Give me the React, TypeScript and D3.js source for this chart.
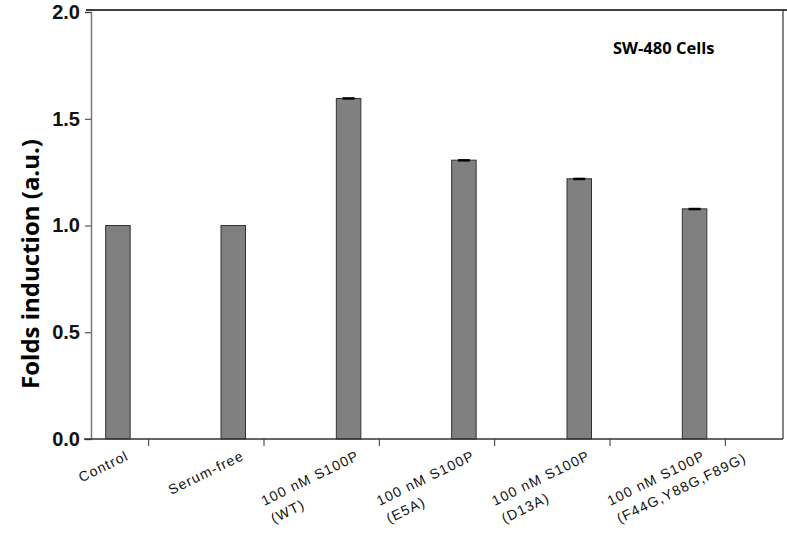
import React, { useEffect, useRef } from 'react';
import * as d3 from 'd3';

// categories (line 1 / line 2 of the tick label)
const labelLine1 = ['Control', 'Serum-free', '100 nM S100P', '100 nM S100P', '100 nM S100P', '100 nM S100P'];
const labelLine2 = ['', '', '(WT)', '(E5A)', '(D13A)', '(F44G,Y88G,F89G)'];
const values = [1.0, 1.0, 1.595, 1.306, 1.219, 1.078];
const errors = [0, 0, 0.006, 0.005, 0.005, 0.005];
const yTicks = [0, 0.5, 1.0, 1.5, 2.0];

const W = 787;
const H = 536;

const App = () => {
  const ref = useRef<SVGSVGElement>(null);

  useEffect(() => {
    document.body.style.margin = '0';
    const svg = d3.select(ref.current);
    svg.selectAll('*').remove();

    const cats = labelLine1.map((d, i) => `${i}`);
    const x = d3.scaleBand().domain(cats).range([91, 783]).padding(0);
    const y = d3.scaleLinear().domain([0, 2]).range([439, 12]);
    const y0 = y(0);
    const yTop = y(2);

    const barW = 24.5;
    const barOff = -43; // bars sit left of the tick

    // frame: top + right
    svg.append('line')
      .attr('x1', 86).attr('x2', 787).attr('y1', yTop - 2).attr('y2', yTop - 2)
      .attr('stroke', '#000').attr('stroke-width', 1.5);
    svg.append('line')
      .attr('x1', 783).attr('x2', 783).attr('y1', yTop - 2).attr('y2', y0)
      .attr('stroke', '#333').attr('stroke-width', 1.2);

    // bars
    const cx = (i: number) => (x(`${i}`) as number) + x.bandwidth() / 2;
    svg.selectAll('.bar')
      .data(values)
      .enter()
      .append('rect')
      .attr('class', 'bar')
      .attr('x', (d, i) => cx(i) + barOff)
      .attr('y', d => y(d))
      .attr('width', barW)
      .attr('height', d => y0 - y(d))
      .attr('fill', '#808080')
      .attr('stroke', '#333')
      .attr('stroke-width', 1);

    // error caps
    values.forEach((v, i) => {
      if (!errors[i]) return;
      const c = cx(i) + barOff + barW / 2;
      svg.append('rect')
        .attr('x', c - 6)
        .attr('y', y(v + errors[i]))
        .attr('width', 12)
        .attr('height', Math.max(2.5, y(v) - y(v + errors[i])))
        .attr('fill', '#000');
    });

    // y axis
    const ya = svg.append('g').attr('transform', 'translate(91,0)')
      .call(d3.axisLeft(y).tickValues(yTicks).tickFormat(d3.format('.1f')).tickSize(6).tickPadding(5));
    ya.select('.domain').attr('stroke', '#777').attr('stroke-width', 1.5);
    ya.selectAll('.tick line').attr('stroke', '#333');
    ya.selectAll('.tick text')
      .attr('font-family', 'Liberation Sans, Arial, sans-serif')
      .attr('font-weight', 'bold')
      .attr('font-size', 20)
      .attr('fill', '#111');

    // x axis
    svg.append('line')
      .attr('x1', 84).attr('x2', 783).attr('y1', y0).attr('y2', y0)
      .attr('stroke', '#333').attr('stroke-width', 1.3);
    cats.forEach((c, i) => {
      svg.append('line')
        .attr('x1', cx(i)).attr('x2', cx(i)).attr('y1', y0).attr('y2', y0 + 7)
        .attr('stroke', '#333').attr('stroke-width', 1);
    });

    // x tick labels, rotated
    cats.forEach((c, i) => {
      const g = svg.append('g')
        .attr('transform', `translate(${cx(i) - 19},${y0 + 20}) rotate(-26)`);
      const t1 = g.append('text')
        .attr('text-anchor', 'end')
        .attr('font-family', 'Liberation Sans, Arial, sans-serif')
        .attr('font-size', 14)
        .attr('letter-spacing', 1.2)
        .attr('fill', '#111')
        .text(labelLine1[i]);
      if (labelLine2[i]) {
        const w = (t1.node() as SVGTextElement).getComputedTextLength();
        g.append('text')
          .attr('x', -w + 1)
          .attr('y', 20)
          .attr('font-family', 'Liberation Sans, Arial, sans-serif')
          .attr('font-size', 14)
          .attr('letter-spacing', 1.2)
          .attr('fill', '#111')
          .text(labelLine2[i]);
      }
    });

    // y title
    svg.append('text')
      .attr('transform', 'translate(39,264) rotate(-90)')
      .attr('text-anchor', 'middle')
      .attr('font-family', 'Open Sans, sans-serif')
      .attr('font-weight', 'bold')
      .attr('font-size', 24)
      .attr('fill', '#000')
      .text('Folds induction (a.u.)');

    // annotation
    svg.append('text')
      .attr('x', 613).attr('y', 54)
      .attr('font-family', 'Open Sans, sans-serif')
      .attr('font-weight', 'bold')
      .attr('font-size', 16.5)
      .attr('fill', '#000')
      .text('SW-480 Cells');
  }, []);

  return <svg ref={ref} width={W} height={H} style={{ display: 'block', background: '#fff' }} />;
};

export default App;
